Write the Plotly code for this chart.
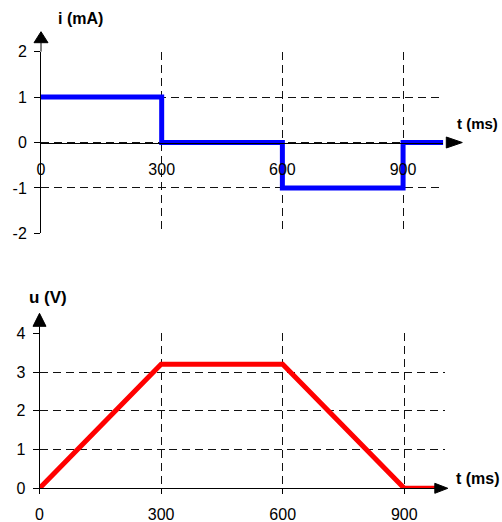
import plotly.graph_objects as go

# ---- data ----
t_current = [0, 300, 600, 900, 1000]
i_current = [1, 0, -1, 0, 0]          # mA (step, hv)

t_voltage = [0, 300, 600, 900, 980]
u_voltage = [0, 3.2, 3.2, 0, 0]       # V

x_ticks = [0, 300, 600, 900]
x_ticktext = ["0", "300", "600", "900"]
i_ticks = [-2, -1, 0, 1, 2]
i_ticktext = ["-2", "-1", "0", "1", "2"]
u_ticks = [0, 1, 2, 3, 4]
u_ticktext = ["0", "1", "2", "3", "4"]

W, H = 502, 522
FONT = "Liberation Sans, Arial, sans-serif"

def px(xp):
    return xp / W

def py(yp):
    return (H - yp) / H

fig = go.Figure()

fig.add_trace(go.Scatter(
    x=t_current, y=i_current, mode="lines", line_shape="hv",
    line=dict(color="#0000FF", width=5), xaxis="x", yaxis="y",
    cliponaxis=False, showlegend=False, hoverinfo="skip"))

fig.add_trace(go.Scatter(
    x=t_voltage, y=u_voltage, mode="lines",
    line=dict(color="#FF0000", width=5), xaxis="x2", yaxis="y2",
    cliponaxis=False, showlegend=False, hoverinfo="skip"))

grid = dict(showgrid=True, gridcolor="#111111", gridwidth=1, griddash="8px,5px")
tickfont = dict(family=FONT, size=16, color="black")

TOP = dict(x0=41, x1=443.3, y_lo=233.3, y_hi=51.7, zero=142.5)
BOT = dict(x0=39.5, x1=444.8, y_lo=488.3, y_hi=333.3)

fig.update_layout(
    width=W, height=H,
    margin=dict(l=0, r=0, t=0, b=0, autoexpand=False),
    paper_bgcolor="white", plot_bgcolor="white",
    showlegend=False,
    xaxis=dict(domain=[px(TOP["x0"]), px(TOP["x1"])], range=[0, 1000],
               anchor="free", position=py(TOP["zero"]),
               showline=True, linecolor="black", linewidth=1,
               zeroline=False, ticks="", tickvals=x_ticks, ticktext=x_ticktext,
               tickfont=tickfont, ticklabelstandoff=12, **grid),
    yaxis=dict(domain=[py(TOP["y_lo"]), py(TOP["y_hi"])], range=[-2, 2], anchor="x",
               showline=True, linecolor="black", linewidth=1,
               zeroline=False, ticks="outside", ticklen=6, tickcolor="black",
               tickvals=i_ticks, ticktext=i_ticktext,
               tickfont=tickfont, ticklabelstandoff=4, **grid),
    xaxis2=dict(domain=[px(BOT["x0"]), px(BOT["x1"])], range=[0, 1000], anchor="y2",
                showline=True, linecolor="black", linewidth=1,
                zeroline=False, ticks="outside", ticklen=5, tickcolor="black",
                tickvals=x_ticks, ticktext=x_ticktext,
                tickfont=tickfont, ticklabelstandoff=6, **grid),
    yaxis2=dict(domain=[py(BOT["y_lo"]), py(BOT["y_hi"])], range=[0, 4], anchor="x2",
                showline=True, linecolor="black", linewidth=1,
                zeroline=False, ticks="outside", ticklen=6, tickcolor="black",
                tickvals=u_ticks, ticktext=u_ticktext,
                tickfont=tickfont, ticklabelstandoff=4, **grid),
)

# arrows (pixel-sized shapes anchored at axis ends, paper refs so not clipped)
def arrow(xa, ya, path):
    fig.add_shape(type="path", xref="paper", yref="paper", xsizemode="pixel",
                  ysizemode="pixel", xanchor=px(xa), yanchor=py(ya), path=path,
                  fillcolor="black", line=dict(color="black", width=1),
                  layer="above")

arrow(TOP["x1"], TOP["zero"], "M3,-5.5 L19,0 L3,5.5 Z")
arrow(TOP["x0"], TOP["y_hi"], "M0,0 L0,9 M-7,9 L7,9 L0,20 Z")
arrow(BOT["x1"], BOT["y_lo"], "M-10,-5 L3,0 L-10,5 Z")
arrow(BOT["x0"], BOT["y_hi"], "M0,0 L0,7 M-6.5,7 L6.5,7 L0,20 Z")

def label(text, xc, yc, size):
    fig.add_annotation(text=f"<b>{text}</b>", xref="paper", yref="paper",
                       x=px(xc), y=py(yc), xanchor="center", yanchor="middle",
                       showarrow=False, font=dict(family=FONT, size=size, color="black"))

label("i (mA)", 80, 18.5, 16)
label("t (ms)", 477, 123, 15)
label("u (V)", 48, 298, 17)
label("t (ms)", 477.5, 478, 16)

fig.write_html("out.html", config={"displayModeBar": False},
               post_script="document.body.style.margin='0';")
